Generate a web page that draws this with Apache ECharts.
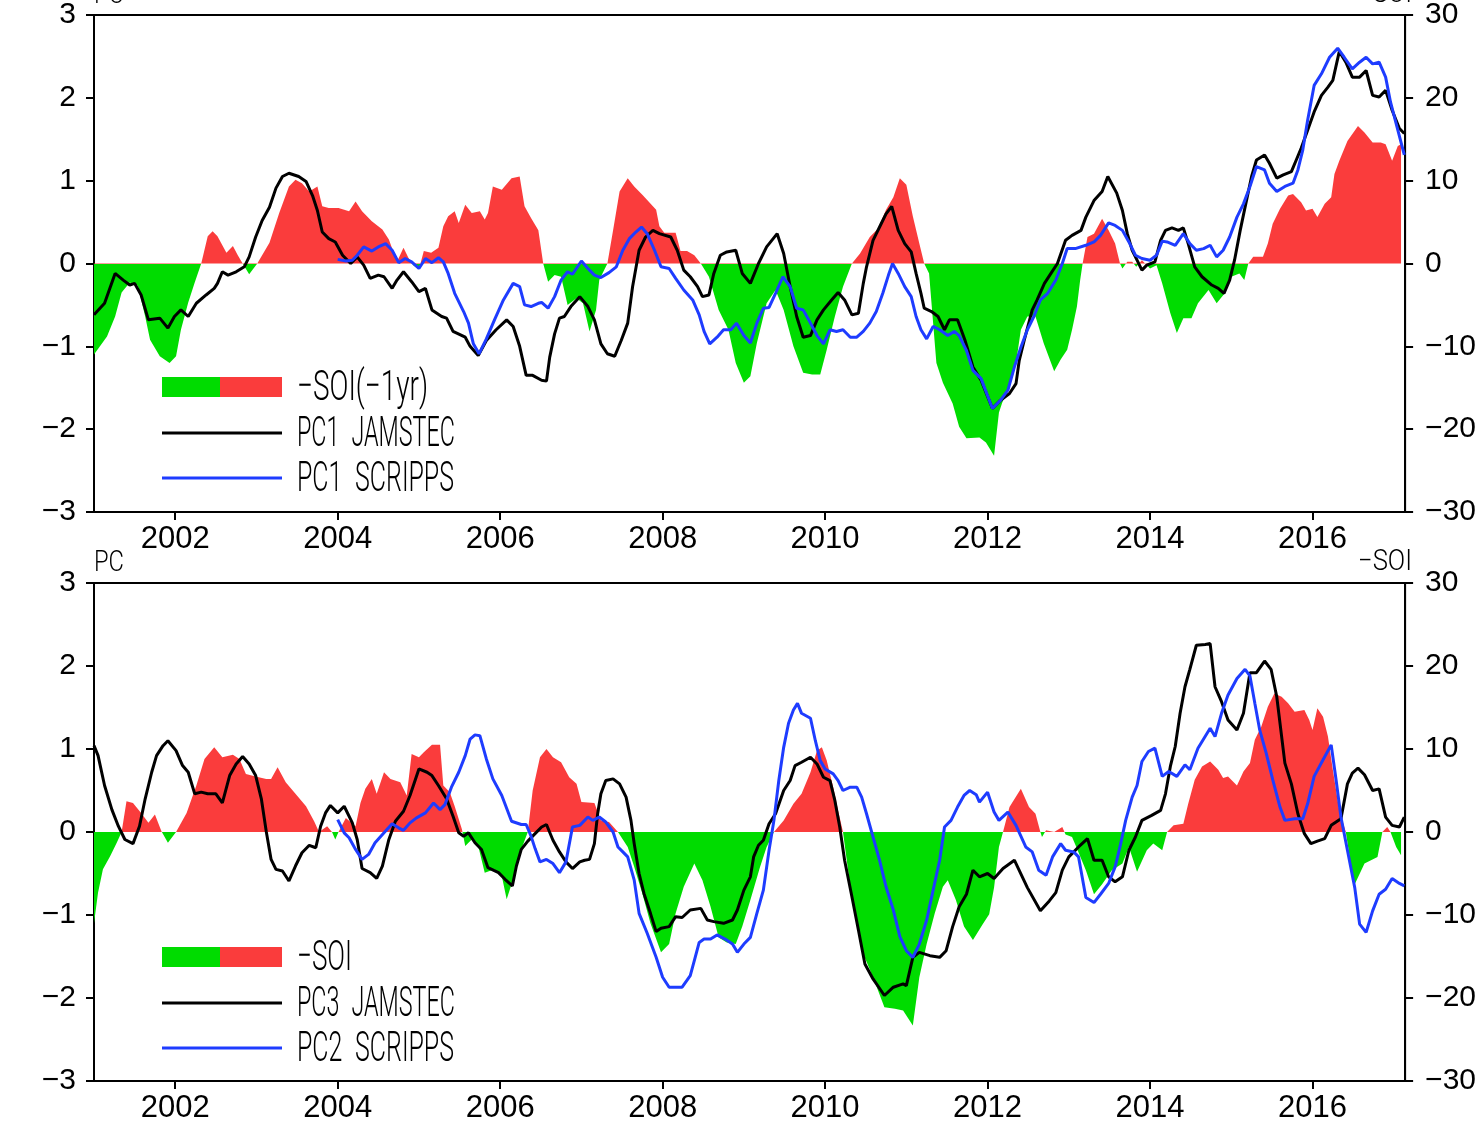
<!DOCTYPE html>
<html>
<head>
<meta charset="utf-8">
<script src="https://cdn.jsdelivr.net/npm/echarts@6/dist/echarts.min.js"></script>
<style>
  html, body { margin: 0; padding: 0; background: #fff; }
  #chart { width: 1479px; height: 1127px; }
</style>
</head>
<body>
<div id="chart"></div>
<script>
// Year ticks on both time axes
const yearTicks = [2002, 2004, 2006, 2008, 2010, 2012, 2014, 2016];

// Upper panel: -SOI lagged one year (right axis), PC1 from two products (left axis)
const soiLag1 = [[2001.00,-11.0],[2001.16,-8.8],[2001.26,-6.4],[2001.34,-3.5],[2001.44,-2.3],[2001.54,-2.7],[2001.63,-6.4],[2001.69,-9.2],[2001.81,-11.2],[2001.93,-12.0],[2002.01,-11.2],[2002.07,-8.0],[2002.16,-4.7],[2002.24,-2.3],[2002.32,0],[2002.40,3.3],[2002.46,3.9],[2002.52,3.3],[2002.63,1.3],[2002.71,2.1],[2002.77,1.0],[2002.83,0],[2002.91,-1.3],[2003.01,0],[2003.16,2.5],[2003.28,6.1],[2003.40,9.3],[2003.48,10.1],[2003.56,9.7],[2003.65,8.7],[2003.75,9.3],[2003.81,6.9],[2003.89,6.7],[2004.01,6.7],[2004.14,6.3],[2004.22,7.5],[2004.30,6.3],[2004.42,5.1],[2004.55,4.1],[2004.63,2.9],[2004.73,0.2],[2004.81,1.9],[2004.87,0.7],[2004.93,-0.2],[2005.00,-0.7],[2005.06,1.5],[2005.15,1.3],[2005.24,1.9],[2005.30,4.5],[2005.36,5.7],[2005.44,6.3],[2005.49,4.9],[2005.57,7.1],[2005.65,6.1],[2005.75,6.3],[2005.81,5.3],[2005.85,6.1],[2005.91,9.3],[2006.02,8.9],[2006.14,10.3],[2006.24,10.5],[2006.30,6.9],[2006.38,5.5],[2006.47,4.0],[2006.53,0],[2006.59,-2.2],[2006.67,-1.4],[2006.75,-1.6],[2006.83,-5.0],[2006.94,-4.2],[2007.02,-4.8],[2007.10,-8.2],[2007.18,-5.6],[2007.22,-2.0],[2007.32,0],[2007.39,4.0],[2007.47,8.7],[2007.57,10.3],[2007.65,9.3],[2007.75,8.3],[2007.92,6.5],[2007.96,4.5],[2008.02,3.7],[2008.16,3.7],[2008.22,1.5],[2008.30,1.5],[2008.39,1.0],[2008.47,0],[2008.57,-1.6],[2008.69,-5.6],[2008.81,-8.0],[2008.90,-12.0],[2009.00,-14.4],[2009.08,-13.6],[2009.16,-9.6],[2009.28,-4.8],[2009.39,-3.2],[2009.49,-5.6],[2009.61,-10.0],[2009.73,-13.2],[2009.84,-13.4],[2009.94,-13.4],[2010.02,-10.4],[2010.12,-6.4],[2010.22,-2.8],[2010.33,0],[2010.43,1.2],[2010.55,3.2],[2010.65,4.2],[2010.75,6.5],[2010.84,8.0],[2010.92,10.3],[2011.00,9.5],[2011.08,5.7],[2011.16,2.4],[2011.22,0],[2011.28,-1.2],[2011.37,-12.0],[2011.45,-14.4],[2011.57,-16.9],[2011.65,-19.7],[2011.74,-21.1],[2011.90,-21.0],[2011.98,-21.6],[2012.08,-23.2],[2012.14,-18.0],[2012.18,-16.8],[2012.27,-14.8],[2012.35,-12.0],[2012.41,-8.0],[2012.49,-6.4],[2012.59,-6.4],[2012.69,-9.6],[2012.82,-13.0],[2012.90,-11.6],[2012.98,-10.4],[2013.04,-8.0],[2013.10,-5.2],[2013.14,-2.0],[2013.17,0],[2013.23,3.2],[2013.31,3.6],[2013.41,5.4],[2013.49,4.0],[2013.57,2.4],[2013.63,0],[2013.66,-0.6],[2013.72,0.2],[2013.78,0.2],[2013.83,-0.4],[2013.90,0.4],[2014.00,-0.6],[2014.08,-0.2],[2014.15,-2.4],[2014.25,-6.0],[2014.33,-8.4],[2014.41,-6.6],[2014.51,-6.6],[2014.59,-4.8],[2014.72,-3.2],[2014.82,-4.8],[2014.92,-3.6],[2015.00,-1.6],[2015.10,-1.2],[2015.16,-2.0],[2015.21,0],[2015.27,0.8],[2015.39,0.8],[2015.45,2.4],[2015.51,4.8],[2015.60,6.6],[2015.70,8.2],[2015.76,8.4],[2015.86,7.4],[2015.92,6.4],[2016.00,6.6],[2016.06,5.6],[2016.15,7.2],[2016.23,8.0],[2016.27,10.8],[2016.33,12.4],[2016.43,14.8],[2016.56,16.6],[2016.64,15.8],[2016.74,14.6],[2016.84,14.6],[2016.90,14.4],[2016.98,12.4],[2017.05,14.2],[2017.09,14.4]];

const pc1Jamstec = [[2001.00,-0.62],[2001.13,-0.48],[2001.26,-0.12],[2001.36,-0.20],[2001.44,-0.26],[2001.50,-0.24],[2001.58,-0.38],[2001.67,-0.68],[2001.81,-0.66],[2001.91,-0.78],[2001.99,-0.64],[2002.07,-0.56],[2002.16,-0.64],[2002.26,-0.48],[2002.38,-0.38],[2002.48,-0.30],[2002.52,-0.24],[2002.58,-0.10],[2002.65,-0.14],[2002.75,-0.10],[2002.85,-0.04],[2002.91,0.08],[2002.99,0.32],[2003.07,0.52],[2003.16,0.68],[2003.24,0.91],[2003.32,1.05],[2003.40,1.09],[2003.52,1.05],[2003.61,0.99],[2003.69,0.82],[2003.75,0.64],[2003.81,0.38],[2003.89,0.30],[2003.97,0.26],[2004.06,0.10],[2004.16,0],[2004.24,0.08],[2004.32,-0.02],[2004.40,-0.18],[2004.50,-0.14],[2004.57,-0.16],[2004.67,-0.30],[2004.73,-0.20],[2004.81,-0.10],[2004.91,-0.22],[2005.00,-0.34],[2005.08,-0.30],[2005.16,-0.56],[2005.28,-0.64],[2005.34,-0.66],[2005.42,-0.82],[2005.57,-0.89],[2005.63,-1.00],[2005.73,-1.11],[2005.83,-0.93],[2005.95,-0.80],[2006.08,-0.68],[2006.16,-0.76],[2006.24,-1.00],[2006.32,-1.35],[2006.40,-1.35],[2006.51,-1.41],[2006.57,-1.42],[2006.61,-1.13],[2006.67,-0.85],[2006.73,-0.66],[2006.79,-0.64],[2006.87,-0.52],[2006.98,-0.40],[2007.08,-0.52],[2007.16,-0.68],[2007.24,-0.97],[2007.32,-1.09],[2007.41,-1.12],[2007.49,-0.93],[2007.57,-0.72],[2007.63,-0.28],[2007.71,0.16],[2007.79,0.32],[2007.88,0.40],[2007.96,0.36],[2008.10,0.32],[2008.18,0.16],[2008.26,-0.08],[2008.34,-0.16],[2008.43,-0.28],[2008.49,-0.40],[2008.57,-0.38],[2008.63,-0.12],[2008.71,0.10],[2008.79,0.14],[2008.90,0.16],[2008.98,-0.12],[2009.08,-0.24],[2009.18,0],[2009.28,0.20],[2009.41,0.36],[2009.49,0.12],[2009.57,-0.28],[2009.65,-0.64],[2009.73,-0.89],[2009.82,-0.87],[2009.90,-0.68],[2009.98,-0.56],[2010.08,-0.44],[2010.16,-0.35],[2010.24,-0.44],[2010.33,-0.62],[2010.41,-0.60],[2010.47,-0.24],[2010.51,-0.04],[2010.59,0.28],[2010.69,0.48],[2010.75,0.60],[2010.82,0.69],[2010.90,0.40],[2010.98,0.24],[2011.06,0.14],[2011.12,-0.12],[2011.18,-0.36],[2011.22,-0.54],[2011.31,-0.58],[2011.39,-0.64],[2011.47,-0.80],[2011.53,-0.68],[2011.63,-0.68],[2011.72,-0.92],[2011.82,-1.25],[2011.92,-1.41],[2012.06,-1.75],[2012.16,-1.65],[2012.27,-1.57],[2012.35,-1.45],[2012.39,-1.17],[2012.45,-0.93],[2012.55,-0.56],[2012.61,-0.44],[2012.70,-0.24],[2012.78,-0.12],[2012.86,0],[2012.96,0.28],[2013.04,0.34],[2013.15,0.40],[2013.21,0.56],[2013.31,0.76],[2013.41,0.87],[2013.48,1.05],[2013.59,0.85],[2013.66,0.64],[2013.72,0.36],[2013.78,0.16],[2013.84,0.04],[2013.90,-0.08],[2013.96,-0.02],[2014.06,0.02],[2014.13,0.28],[2014.19,0.40],[2014.27,0.43],[2014.35,0.40],[2014.41,0.43],[2014.47,0.24],[2014.55,-0.04],[2014.64,-0.16],[2014.76,-0.26],[2014.84,-0.30],[2014.91,-0.36],[2014.98,-0.20],[2015.04,0.04],[2015.11,0.40],[2015.17,0.68],[2015.25,1.05],[2015.31,1.25],[2015.41,1.31],[2015.47,1.21],[2015.56,1.03],[2015.64,1.07],[2015.74,1.11],[2015.80,1.25],[2015.86,1.39],[2015.94,1.61],[2016.02,1.83],[2016.11,2.03],[2016.19,2.13],[2016.25,2.21],[2016.33,2.56],[2016.41,2.43],[2016.49,2.25],[2016.58,2.25],[2016.66,2.33],[2016.74,2.03],[2016.82,2.01],[2016.90,2.09],[2016.98,1.85],[2017.07,1.63],[2017.13,1.57]];

const pc1Scripps = [[2004.00,0.05],[2004.10,0.03],[2004.18,0.04],[2004.24,0.10],[2004.32,0.20],[2004.42,0.15],[2004.50,0.20],[2004.59,0.24],[2004.67,0.16],[2004.75,0.01],[2004.83,0.06],[2004.91,0.02],[2005.00,-0.06],[2005.08,0.06],[2005.16,0.01],[2005.24,0.07],[2005.30,0.02],[2005.36,-0.12],[2005.44,-0.36],[2005.55,-0.58],[2005.61,-0.72],[2005.67,-0.97],[2005.74,-1.09],[2005.83,-0.91],[2005.93,-0.68],[2006.04,-0.44],[2006.16,-0.24],[2006.24,-0.28],[2006.30,-0.50],[2006.38,-0.52],[2006.47,-0.48],[2006.51,-0.47],[2006.59,-0.54],[2006.67,-0.40],[2006.75,-0.20],[2006.83,-0.10],[2006.89,-0.13],[2007.00,0.03],[2007.08,-0.06],[2007.16,-0.14],[2007.24,-0.17],[2007.34,-0.11],[2007.43,-0.04],[2007.51,0.16],[2007.59,0.30],[2007.67,0.38],[2007.74,0.44],[2007.81,0.36],[2007.90,0.16],[2007.98,-0.04],[2008.08,-0.06],[2008.16,-0.18],[2008.26,-0.32],[2008.37,-0.44],[2008.45,-0.62],[2008.51,-0.82],[2008.58,-0.97],[2008.67,-0.89],[2008.75,-0.80],[2008.84,-0.80],[2008.91,-0.72],[2009.00,-0.87],[2009.08,-0.96],[2009.16,-0.72],[2009.24,-0.54],[2009.31,-0.53],[2009.39,-0.36],[2009.48,-0.16],[2009.57,-0.28],[2009.65,-0.54],[2009.73,-0.56],[2009.82,-0.72],[2009.90,-0.87],[2009.98,-0.97],[2010.06,-0.80],[2010.14,-0.82],[2010.22,-0.80],[2010.31,-0.89],[2010.39,-0.89],[2010.47,-0.82],[2010.55,-0.72],[2010.63,-0.58],[2010.71,-0.36],[2010.78,-0.14],[2010.83,0],[2010.90,-0.12],[2010.98,-0.28],[2011.06,-0.40],[2011.12,-0.64],[2011.18,-0.80],[2011.25,-0.91],[2011.33,-0.76],[2011.41,-0.80],[2011.51,-0.87],[2011.59,-0.82],[2011.65,-0.87],[2011.74,-1.05],[2011.82,-1.29],[2011.92,-1.39],[2012.06,-1.75],[2012.16,-1.65],[2012.25,-1.53],[2012.33,-1.25],[2012.41,-1.01],[2012.49,-0.80],[2012.57,-0.64],[2012.65,-0.44],[2012.74,-0.36],[2012.84,-0.20],[2012.92,0],[2012.98,0.18],[2013.08,0.18],[2013.21,0.22],[2013.31,0.26],[2013.39,0.34],[2013.49,0.49],[2013.57,0.46],[2013.66,0.40],[2013.74,0.26],[2013.82,0.10],[2013.90,0.06],[2014.00,0.04],[2014.08,0.10],[2014.15,0.27],[2014.21,0.26],[2014.31,0.22],[2014.41,0.36],[2014.49,0.24],[2014.57,0.16],[2014.66,0.18],[2014.74,0.22],[2014.82,0.08],[2014.90,0.16],[2014.98,0.32],[2015.07,0.56],[2015.15,0.72],[2015.23,0.93],[2015.31,1.17],[2015.41,1.13],[2015.47,0.97],[2015.56,0.87],[2015.66,0.93],[2015.76,0.97],[2015.82,1.13],[2015.88,1.37],[2015.94,1.73],[2016.02,2.15],[2016.11,2.29],[2016.21,2.49],[2016.31,2.60],[2016.39,2.49],[2016.49,2.35],[2016.58,2.43],[2016.66,2.49],[2016.74,2.41],[2016.82,2.43],[2016.90,2.25],[2016.96,1.95],[2017.04,1.65],[2017.13,1.31]];

// Lower panel: -SOI (right axis), PC3 JAMSTEC and PC2 SCRIPPS (left axis)
const soi = [[2001.00,-11.0],[2001.05,-7.3],[2001.11,-4.5],[2001.20,-2.9],[2001.28,-1.3],[2001.34,0],[2001.40,3.7],[2001.48,3.5],[2001.58,2.3],[2001.67,1.1],[2001.75,2.1],[2001.83,0.1],[2001.91,-1.3],[2002.01,0],[2002.14,2.3],[2002.26,5.6],[2002.36,8.8],[2002.48,10.2],[2002.58,9.0],[2002.71,9.3],[2002.79,8.8],[2002.87,7.0],[2002.99,6.7],[2003.12,6.4],[2003.18,6.4],[2003.26,7.8],[2003.36,6.0],[2003.48,4.6],[2003.61,3.1],[2003.71,1.3],[2003.77,0],[2003.87,0.7],[2003.93,0],[2003.97,-0.9],[2004.01,0],[2004.10,1.7],[2004.22,0.7],[2004.28,3.5],[2004.34,5.2],[2004.42,6.4],[2004.48,4.6],[2004.57,7.2],[2004.65,6.4],[2004.77,6.0],[2004.85,4.4],[2004.91,9.4],[2005.00,9.0],[2005.06,9.6],[2005.16,10.5],[2005.26,10.5],[2005.30,5.6],[2005.38,4.8],[2005.44,3.1],[2005.53,0.3],[2005.57,-1.7],[2005.65,-0.9],[2005.73,-1.7],[2005.81,-4.9],[2005.93,-4.5],[2006.02,-5.3],[2006.08,-8.1],[2006.16,-5.7],[2006.26,-2.1],[2006.34,0],[2006.40,5.0],[2006.49,9.0],[2006.57,10.0],[2006.65,9.0],[2006.75,8.4],[2006.85,6.6],[2006.94,5.8],[2007.00,3.6],[2007.16,3.5],[2007.24,1.4],[2007.34,1.2],[2007.45,0],[2007.57,-1.8],[2007.65,-4.2],[2007.75,-7.4],[2007.85,-11.0],[2007.98,-14.5],[2008.08,-13.5],[2008.16,-9.8],[2008.26,-6.6],[2008.39,-3.8],[2008.49,-5.8],[2008.59,-9.0],[2008.69,-12.7],[2008.79,-13.3],[2008.90,-13.5],[2008.98,-11.4],[2009.08,-8.2],[2009.20,-4.2],[2009.28,-1.8],[2009.37,0],[2009.49,1.4],[2009.61,3.4],[2009.71,4.6],[2009.82,7.2],[2009.90,9.8],[2009.96,10.2],[2010.02,8.6],[2010.10,5.4],[2010.16,2.6],[2010.22,0],[2010.31,-6.6],[2010.39,-11.0],[2010.47,-14.7],[2010.59,-17.5],[2010.73,-21.1],[2010.86,-21.3],[2010.96,-21.5],[2011.08,-23.3],[2011.16,-17.5],[2011.25,-13.5],[2011.35,-9.8],[2011.45,-6.6],[2011.51,-5.8],[2011.61,-8.2],[2011.71,-11.4],[2011.82,-13.0],[2011.94,-11.1],[2012.02,-9.9],[2012.08,-6.7],[2012.14,-1.8],[2012.19,0],[2012.27,3.0],[2012.41,5.2],[2012.51,3.0],[2012.59,2.2],[2012.65,0],[2012.67,-0.6],[2012.72,0.2],[2012.82,0],[2012.92,0.6],[2012.96,-0.3],[2013.04,-0.6],[2013.10,-2.0],[2013.21,-4.6],[2013.31,-7.5],[2013.41,-6.3],[2013.53,-4.6],[2013.66,-3.8],[2013.74,-1.8],[2013.84,-4.8],[2013.96,-2.2],[2014.04,-1.4],[2014.15,-2.2],[2014.21,0],[2014.29,0.8],[2014.41,1.0],[2014.47,3.4],[2014.55,6.3],[2014.64,7.9],[2014.74,8.5],[2014.84,7.5],[2014.90,6.5],[2014.96,6.7],[2015.07,5.6],[2015.15,7.3],[2015.23,8.3],[2015.29,11.1],[2015.37,12.7],[2015.45,15.1],[2015.53,16.7],[2015.62,16.3],[2015.70,15.5],[2015.78,14.5],[2015.90,14.7],[2015.96,13.5],[2016.00,12.3],[2016.06,14.9],[2016.13,13.9],[2016.19,11.5],[2016.25,7.5],[2016.33,2.6],[2016.41,0],[2016.47,-3.8],[2016.52,-6.3],[2016.64,-3.8],[2016.80,-3.0],[2016.86,0],[2016.92,0.6],[2016.96,0],[2017.03,-1.8],[2017.09,-2.8]];

const pc3Jamstec = [[2001.00,1.04],[2001.05,0.92],[2001.13,0.56],[2001.22,0.27],[2001.30,0.07],[2001.38,-0.09],[2001.48,-0.14],[2001.56,0.07],[2001.63,0.40],[2001.71,0.72],[2001.77,0.92],[2001.85,1.04],[2001.91,1.10],[2002.01,0.98],[2002.09,0.80],[2002.16,0.72],[2002.24,0.46],[2002.32,0.48],[2002.40,0.46],[2002.50,0.46],[2002.58,0.35],[2002.67,0.68],[2002.75,0.82],[2002.83,0.91],[2002.91,0.82],[2002.99,0.68],[2003.06,0.40],[2003.12,0.01],[2003.18,-0.33],[2003.24,-0.45],[2003.32,-0.47],[2003.40,-0.59],[2003.48,-0.41],[2003.56,-0.25],[2003.65,-0.16],[2003.73,-0.19],[2003.79,0.07],[2003.85,0.23],[2003.91,0.32],[2004.00,0.23],[2004.08,0.31],[2004.18,0.11],[2004.24,-0.09],[2004.30,-0.44],[2004.40,-0.49],[2004.48,-0.56],[2004.55,-0.41],[2004.63,-0.09],[2004.71,0.13],[2004.81,0.25],[2004.89,0.44],[2005.00,0.76],[2005.10,0.72],[2005.16,0.68],[2005.24,0.56],[2005.34,0.40],[2005.42,0.19],[2005.49,-0.01],[2005.55,-0.05],[2005.61,-0.01],[2005.69,-0.13],[2005.77,-0.21],[2005.85,-0.43],[2005.98,-0.49],[2006.06,-0.57],[2006.15,-0.65],[2006.20,-0.41],[2006.26,-0.21],[2006.34,-0.11],[2006.43,-0.02],[2006.51,0.06],[2006.57,0.09],[2006.65,-0.10],[2006.73,-0.24],[2006.81,-0.36],[2006.89,-0.44],[2006.98,-0.36],[2007.04,-0.34],[2007.10,-0.33],[2007.16,-0.14],[2007.20,0.22],[2007.24,0.46],[2007.30,0.62],[2007.39,0.64],[2007.47,0.58],[2007.55,0.42],[2007.61,0.14],[2007.65,-0.14],[2007.71,-0.50],[2007.77,-0.74],[2007.85,-0.98],[2007.92,-1.20],[2007.98,-1.16],[2008.08,-1.14],[2008.16,-1.02],[2008.24,-1.03],[2008.34,-0.94],[2008.47,-0.92],[2008.55,-1.06],[2008.63,-1.08],[2008.75,-1.10],[2008.86,-1.06],[2008.92,-0.94],[2009.00,-0.70],[2009.08,-0.54],[2009.12,-0.30],[2009.18,-0.16],[2009.24,-0.10],[2009.31,0.10],[2009.39,0.22],[2009.49,0.50],[2009.57,0.62],[2009.63,0.80],[2009.71,0.84],[2009.82,0.90],[2009.90,0.82],[2009.98,0.66],[2010.06,0.62],[2010.12,0.38],[2010.18,0.06],[2010.24,-0.34],[2010.33,-0.78],[2010.41,-1.18],[2010.49,-1.59],[2010.59,-1.77],[2010.73,-1.97],[2010.84,-1.87],[2010.96,-1.83],[2011.00,-1.85],[2011.08,-1.51],[2011.16,-1.45],[2011.29,-1.49],[2011.41,-1.51],[2011.49,-1.43],[2011.57,-1.14],[2011.65,-0.90],[2011.74,-0.75],[2011.82,-0.46],[2011.90,-0.54],[2012.00,-0.50],[2012.08,-0.56],[2012.19,-0.44],[2012.33,-0.34],[2012.49,-0.67],[2012.65,-0.95],[2012.76,-0.83],[2012.84,-0.73],[2012.92,-0.46],[2013.00,-0.30],[2013.12,-0.18],[2013.23,-0.08],[2013.31,-0.34],[2013.41,-0.34],[2013.49,-0.54],[2013.57,-0.60],[2013.66,-0.54],[2013.74,-0.22],[2013.82,-0.06],[2013.90,0.14],[2014.02,0.20],[2014.13,0.26],[2014.19,0.46],[2014.25,0.79],[2014.31,1.03],[2014.37,1.43],[2014.43,1.75],[2014.49,1.96],[2014.57,2.25],[2014.68,2.26],[2014.74,2.27],[2014.80,1.75],[2014.88,1.57],[2014.96,1.35],[2015.07,1.23],[2015.15,1.43],[2015.23,1.92],[2015.31,1.92],[2015.41,2.06],[2015.49,1.96],[2015.56,1.63],[2015.66,0.83],[2015.74,0.58],[2015.82,0.22],[2015.90,-0.02],[2015.98,-0.14],[2016.06,-0.11],[2016.15,-0.08],[2016.23,0.08],[2016.35,0.16],[2016.43,0.58],[2016.49,0.71],[2016.56,0.77],[2016.64,0.69],[2016.74,0.50],[2016.82,0.52],[2016.90,0.18],[2016.98,0.08],[2017.07,0.06],[2017.13,0.18]];

const pc2Scripps = [[2004.00,0.15],[2004.08,-0.01],[2004.14,-0.07],[2004.22,-0.21],[2004.30,-0.33],[2004.38,-0.27],[2004.46,-0.13],[2004.57,-0.01],[2004.67,0.10],[2004.75,0.05],[2004.81,0.02],[2004.89,0.11],[2004.97,0.17],[2005.08,0.23],[2005.18,0.35],[2005.26,0.27],[2005.32,0.33],[2005.40,0.54],[2005.49,0.72],[2005.57,0.92],[2005.63,1.12],[2005.69,1.17],[2005.75,1.16],[2005.83,0.88],[2005.91,0.64],[2006.02,0.44],[2006.14,0.13],[2006.26,0.09],[2006.32,0.09],[2006.38,-0.05],[2006.43,-0.20],[2006.49,-0.36],[2006.57,-0.33],[2006.65,-0.38],[2006.73,-0.49],[2006.81,-0.36],[2006.89,0.06],[2006.98,0.08],[2007.08,0.18],[2007.14,0.14],[2007.22,0.18],[2007.30,0.12],[2007.39,0],[2007.45,-0.18],[2007.51,-0.24],[2007.57,-0.30],[2007.65,-0.58],[2007.71,-0.98],[2007.81,-1.22],[2007.92,-1.51],[2008.00,-1.75],[2008.08,-1.87],[2008.16,-1.87],[2008.24,-1.87],[2008.34,-1.73],[2008.39,-1.55],[2008.45,-1.33],[2008.51,-1.29],[2008.59,-1.29],[2008.67,-1.24],[2008.77,-1.29],[2008.86,-1.35],[2008.92,-1.45],[2009.00,-1.35],[2009.08,-1.27],[2009.16,-0.98],[2009.24,-0.70],[2009.31,-0.22],[2009.37,0.14],[2009.43,0.62],[2009.49,1.02],[2009.55,1.31],[2009.61,1.47],[2009.66,1.55],[2009.71,1.43],[2009.82,1.37],[2009.88,1.10],[2009.94,0.86],[2010.00,0.76],[2010.10,0.70],[2010.16,0.62],[2010.22,0.50],[2010.31,0.54],[2010.39,0.54],[2010.45,0.42],[2010.51,0.22],[2010.59,-0.06],[2010.67,-0.34],[2010.75,-0.66],[2010.84,-0.94],[2010.92,-1.26],[2011.00,-1.43],[2011.08,-1.51],[2011.16,-1.35],[2011.25,-1.06],[2011.33,-0.70],[2011.41,-0.34],[2011.47,0.06],[2011.55,0.14],[2011.63,0.30],[2011.71,0.44],[2011.78,0.50],[2011.86,0.45],[2011.90,0.36],[2012.00,0.48],[2012.08,0.24],[2012.14,0.14],[2012.25,0.24],[2012.35,0.08],[2012.47,-0.18],[2012.55,-0.24],[2012.63,-0.46],[2012.72,-0.52],[2012.80,-0.30],[2012.90,-0.14],[2012.96,-0.22],[2013.06,-0.24],[2013.12,-0.30],[2013.21,-0.79],[2013.31,-0.85],[2013.39,-0.75],[2013.49,-0.62],[2013.57,-0.42],[2013.63,-0.18],[2013.70,0.14],[2013.78,0.42],[2013.84,0.56],[2013.90,0.85],[2013.98,0.97],[2014.06,1.01],[2014.15,0.67],[2014.23,0.73],[2014.33,0.67],[2014.43,0.81],[2014.49,0.75],[2014.59,1.01],[2014.74,1.25],[2014.80,1.15],[2014.88,1.43],[2014.96,1.65],[2015.07,1.85],[2015.17,1.96],[2015.23,1.88],[2015.29,1.55],[2015.35,1.23],[2015.43,0.95],[2015.51,0.63],[2015.60,0.30],[2015.66,0.14],[2015.78,0.16],[2015.88,0.16],[2015.94,0.34],[2016.02,0.67],[2016.13,0.87],[2016.23,1.05],[2016.29,0.63],[2016.35,0.18],[2016.43,-0.22],[2016.52,-0.67],[2016.58,-1.11],[2016.66,-1.21],[2016.74,-0.95],[2016.82,-0.75],[2016.90,-0.69],[2016.98,-0.56],[2017.07,-0.62],[2017.13,-0.65]];

// Styling
const GREEN = '#00dc00';
const RED = '#fa3c3c';
const BLUE = '#1e3cff';
const INK = '#000000';
const TICK_FONT = 'Liberation Sans, Arial, sans-serif';
const THIN_FONT = "300 43px Roboto, 'Liberation Sans', sans-serif";
const SMALL_FONT = "300 29px Roboto, 'Liberation Sans', sans-serif";
const GAP = '\u2002'; // wide word gap, as in plotter lettering

const minusFmt = v => (v < 0 ? '\u2212' + Math.abs(v) : String(v));

// Horizontal squeeze so a label spans the wanted width (condensed plot lettering)
const measureCtx = document.createElement('canvas').getContext('2d');
function squeeze(text, font, width) {
  measureCtx.font = font;
  return width / measureCtx.measureText(text).width;
}
function label(text, font, x, y, width, align) {
  return {
    type: 'text', x: x, y: y, z: 100,
    scaleX: squeeze(text, font, width), scaleY: 1, originX: 0, originY: 0,
    style: { text: text, font: font, fill: INK, align: align || 'left', verticalAlign: 'middle', x: 0, y: 0 }
  };
}
function legendBlock(top, soiText, soiWidth, blackText, blueText) {
  return [
    { type: 'rect', z: 100, shape: { x: 162, y: top, width: 58, height: 20 }, style: { fill: GREEN } },
    { type: 'rect', z: 100, shape: { x: 220, y: top, width: 62, height: 20 }, style: { fill: RED } },
    { type: 'line', z: 100, shape: { x1: 162, y1: top + 56, x2: 282, y2: top + 56 }, style: { stroke: INK, lineWidth: 3 } },
    { type: 'line', z: 100, shape: { x1: 162, y1: top + 101, x2: 282, y2: top + 101 }, style: { stroke: BLUE, lineWidth: 3 } },
    label(soiText, THIN_FONT, 297, top + 12, soiWidth),
    label(blackText, THIN_FONT, 297, top + 58, 158),
    label(blueText, THIN_FONT, 297, top + 103, 157)
  ];
}

function xAxis(gridIndex) {
  return {
    type: 'value', gridIndex: gridIndex, min: 2001, max: 2017.14,
    axisLine: { show: true, onZero: false, lineStyle: { color: INK, width: 2 } },
    axisTick: { show: true, inside: false, length: 8, customValues: yearTicks, lineStyle: { color: INK, width: 2 } },
    axisLabel: { show: true, customValues: yearTicks, margin: 12, color: INK, fontFamily: TICK_FONT, fontSize: 31, formatter: v => String(v) },
    splitLine: { show: false }
  };
}
function yAxis(gridIndex, side, lim, step, margin) {
  return {
    type: 'value', gridIndex: gridIndex, position: side, min: -lim, max: lim, interval: step,
    axisLine: { show: true, onZero: false, lineStyle: { color: INK, width: 2 } },
    axisTick: { show: true, inside: false, length: 8, lineStyle: { color: INK, width: 2 } },
    axisLabel: { show: true, margin: margin, color: INK, fontFamily: TICK_FONT, fontSize: 30, formatter: minusFmt },
    splitLine: { show: false }
  };
}
function areaSeries(xi, yi, data) {
  return { type: 'line', xAxisIndex: xi, yAxisIndex: yi, data: data, symbol: 'none', silent: true, z: 1,
           lineStyle: { width: 0 }, areaStyle: { opacity: 1 } };
}
function lineSeries(xi, yi, data, color, width, z) {
  return { type: 'line', xAxisIndex: xi, yAxisIndex: yi, data: data, symbol: 'none', silent: true, z: z,
           lineStyle: { color: color, width: width }, itemStyle: { color: color } };
}

const chart = echarts.init(document.getElementById('chart'), null, { renderer: 'canvas' });
chart.setOption({
  animation: false,
  backgroundColor: '#ffffff',
  grid: [
    { left: 94, top: 15, width: 1316, height: 497, show: true, borderColor: INK, borderWidth: 2, backgroundColor: 'transparent' },
    { left: 94, top: 583, width: 1316, height: 498, show: true, borderColor: INK, borderWidth: 2, backgroundColor: 'transparent' }
  ],
  xAxis: [xAxis(0), xAxis(1)],
  yAxis: [yAxis(0, 'left', 3, 1, 18), yAxis(0, 'right', 30, 10, 20), yAxis(1, 'left', 3, 1, 18), yAxis(1, 'right', 30, 10, 20)],
  // Negative -SOI filled green, positive filled red (split at zero)
  visualMap: [{
    type: 'piecewise', show: false, seriesIndex: [0, 3], dimension: 1,
    pieces: [{ min: -100, max: 0, color: GREEN }, { gt: 0, lte: 100, color: RED }]
  }],
  series: [
    areaSeries(0, 1, soiLag1),
    lineSeries(0, 0, pc1Jamstec, INK, 3, 3),
    lineSeries(0, 0, pc1Scripps, BLUE, 3, 4),
    areaSeries(1, 3, soi),
    lineSeries(1, 2, pc3Jamstec, INK, 3, 3),
    lineSeries(1, 2, pc2Scripps, BLUE, 3, 4)
  ],
  graphic: [].concat(
    legendBlock(377, '\u2212SOI(\u22121yr)', 131, 'PC1' + GAP + 'JAMSTEC', 'PC1' + GAP + 'SCRIPPS'),
    legendBlock(947, '\u2212SOI', 55, 'PC3' + GAP + 'JAMSTEC', 'PC2' + GAP + 'SCRIPPS'),
    [
      label('PC', SMALL_FONT, 94, -4, 30),
      label('\u2212SOI', SMALL_FONT, 1412, -5, 54, 'right'),
      label('PC', SMALL_FONT, 94, 564, 30),
      label('\u2212SOI', SMALL_FONT, 1412, 563, 54, 'right')
    ]
  )
});
</script>
</body>
</html>
